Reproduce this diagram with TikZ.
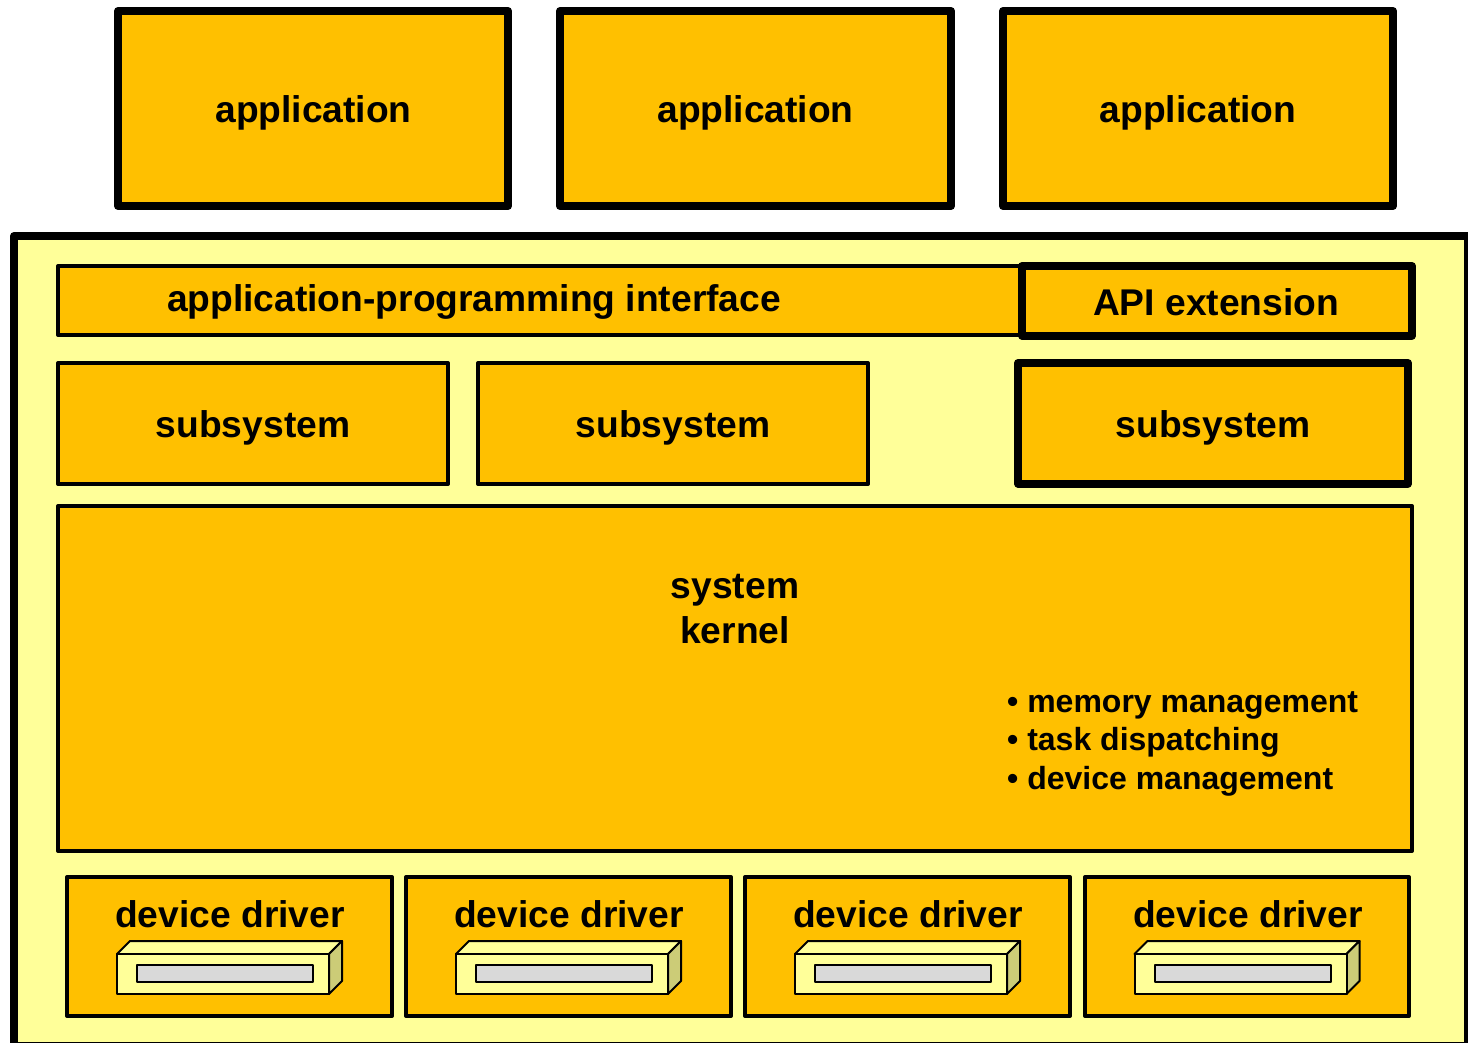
\documentclass[tikz,border=0pt]{standalone}
\usepackage{fontspec}
\usepackage{tikz}
\setmainfont{Liberation Sans}
\definecolor{boxorange}{HTML}{FFC000}
\definecolor{paleyellow}{HTML}{FFFF99}
\definecolor{sideolive}{HTML}{CCCC77}
\definecolor{slotgrey}{HTML}{D9D9D9}
\tikzset{
  thickbox/.style={draw=black,fill=boxorange,line width=8pt,line join=round},
  thinbox/.style={draw=black,fill=boxorange,line width=4pt,line join=round},
  biglabel/.style={anchor=base,inner sep=0pt,font=\fontsize{37.2}{37.2}\selectfont\bfseries},
  smalllabel/.style={anchor=base west,inner sep=0pt,font=\fontsize{32}{32}\selectfont\bfseries},
  devicepart/.style={draw=black,line width=2pt,line join=round}
}
\begin{document}
\begin{tikzpicture}[x=1pt,y=-1pt]
        \useasboundingbox (0,0) rectangle (1468,1043);
        \clip (0,0) rectangle (1468,1043);

        % outer frame
        \draw[fill=paleyellow,line width=8pt,line join=round] (14,236) rectangle (1468,1046);

        % boxes
        \draw[thickbox] (118,11) rectangle (508,206);
        \draw[thickbox] (560,11) rectangle (951,206);
        \draw[thickbox] (1003,11) rectangle (1393,206);
        \draw[thinbox] (58,266) rectangle (1020,335);
        \draw[thickbox] (1022,266) rectangle (1412,335.5);
        \draw[thinbox] (58,363) rectangle (448,484);
        \draw[thinbox] (478,363) rectangle (868,484);
        \draw[thickbox] (1018,363) rectangle (1408,483.5);
        \draw[thinbox] (58,506) rectangle (1412,851);
        \draw[thinbox] (67,877) rectangle (392,1016);
        \draw[thinbox] (406,877) rectangle (731,1016);
        \draw[thinbox] (745,877) rectangle (1070,1016);
        \draw[thinbox] (1085,877) rectangle (1409,1016);

        % labels
        \node[biglabel] (app1) at (313.5,123) {application};
        \node[biglabel] (app2) at (755.5,123) {application};
        \node[biglabel] (app3) at (1198,123) {application};
        \node[biglabel] (api) at (474,312) {application-programming interface};
        \node[biglabel] (ext) at (1216,316) {API extension};
        \node[biglabel] (sub1) at (253,437) {subsystem};
        \node[biglabel] (sub2) at (673,437) {subsystem};
        \node[biglabel] (sub3) at (1213,437) {subsystem};
        \node[biglabel] (kernel1) at (735,598) {system};
        \node[biglabel] (kernel2) at (735,643) {kernel};
        \node[smalllabel] (task1) at (1007,712) {• memory management};
        \node[smalllabel] (task2) at (1007,750) {• task dispatching};
        \node[smalllabel] (task3) at (1007,789) {• device management};
        \node[biglabel] (drv1) at (230,927) {device driver};
        \node[biglabel] (drv2) at (569,927) {device driver};
        \node[biglabel] (drv3) at (908,927) {device driver};
        \node[biglabel] (drv4) at (1248,927) {device driver};

        %% device pictures
        \draw[devicepart,fill=paleyellow] (117,954) -- (130,941) -- (342,941) -- (329,954) -- cycle;
        \draw[devicepart,fill=sideolive] (329,954) -- (342,941) -- (342,981) -- (329,994) -- cycle;
        \draw[devicepart,fill=paleyellow] (117,954) rectangle (329,994);
        \draw[devicepart,fill=slotgrey] (137,965) rectangle (313,982);

        \draw[devicepart,fill=paleyellow] (456,954) -- (469,941) -- (681,941) -- (668,954) -- cycle;
        \draw[devicepart,fill=sideolive] (668,954) -- (681,941) -- (681,981) -- (668,994) -- cycle;
        \draw[devicepart,fill=paleyellow] (456,954) rectangle (668,994);
        \draw[devicepart,fill=slotgrey] (476,965) rectangle (652,982);

        \draw[devicepart,fill=paleyellow] (795,954) -- (808,941) -- (1020,941) -- (1007,954) -- cycle;
        \draw[devicepart,fill=sideolive] (1007,954) -- (1020,941) -- (1020,981) -- (1007,994) -- cycle;
        \draw[devicepart,fill=paleyellow] (795,954) rectangle (1007,994);
        \draw[devicepart,fill=slotgrey] (815,965) rectangle (991,982);

        \draw[devicepart,fill=paleyellow] (1134.5,954) -- (1147.5,941) -- (1359.5,941) -- (1346.5,954) -- cycle;
        \draw[devicepart,fill=sideolive] (1346.5,954) -- (1359.5,941) -- (1359.5,981) -- (1346.5,994) -- cycle;
        \draw[devicepart,fill=paleyellow] (1134.5,954) rectangle (1346.5,994);
        \draw[devicepart,fill=slotgrey] (1154.5,965) rectangle (1331,982);
\end{tikzpicture}
\end{document}
